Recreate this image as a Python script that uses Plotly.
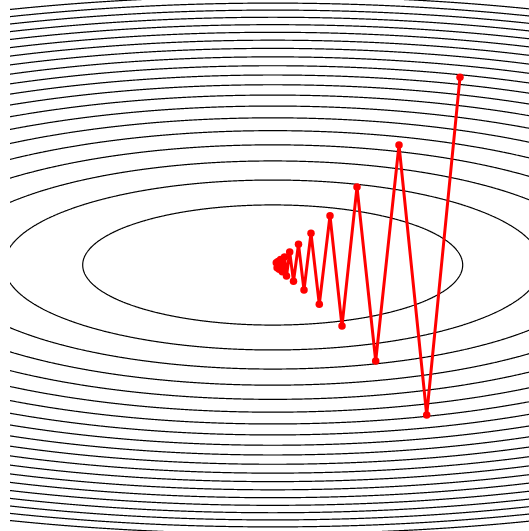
import numpy as np
import plotly.graph_objects as go

# Gradient descent iterates on f(x, y) = x^2 + 10 y^2 (step size 0.09)
path_x = [18.73, 15.40, 12.63, 10.30, 8.43, 6.93, 5.73, 4.66, 3.83, 3.13,
          2.58, 2.08, 1.70, 1.38, 1.18, 0.96, 0.79, 0.65, 0.53, 0.44, 0.36]
path_y = [18.77, -15.00, 12.00, -9.60, 7.80, -6.10, 4.93, -3.93, 3.17, -2.50,
          2.07, -1.63, 1.30, -1.10, 0.80, -0.68, 0.54, -0.43, 0.35, -0.28, 0.22]

# Contour levels of the quadratic bowl
level_step = 361
level_count = 20

gx = np.linspace(-28, 28, 561)
gy = np.linspace(-28, 28, 561)
GX, GY = np.meshgrid(gx, gy)
Z = GX ** 2 + 10 * GY ** 2

fig = go.Figure()
fig.add_trace(go.Contour(
    x=gx, y=gy, z=Z,
    contours=dict(start=level_step, end=level_step * level_count,
                  size=level_step, coloring="lines"),
    colorscale=[[0, "black"], [1, "black"]],
    line=dict(width=1.2),
    showscale=False,
    hoverinfo="skip",
))
fig.add_trace(go.Scatter(
    x=path_x, y=path_y,
    mode="lines+markers",
    line=dict(color="#ff0000", width=3),
    marker=dict(color="#ff0000", size=7.5),
    showlegend=False,
))

fig.update_layout(
    width=529, height=531,
    margin=dict(l=10, r=0, t=0, b=0),
    paper_bgcolor="white",
    plot_bgcolor="white",
    showlegend=False,
)
fig.update_xaxes(range=[-26.27, 25.63], visible=False)
fig.update_yaxes(range=[-26.6, 26.5], visible=False)

fig.write_html("out.html")
